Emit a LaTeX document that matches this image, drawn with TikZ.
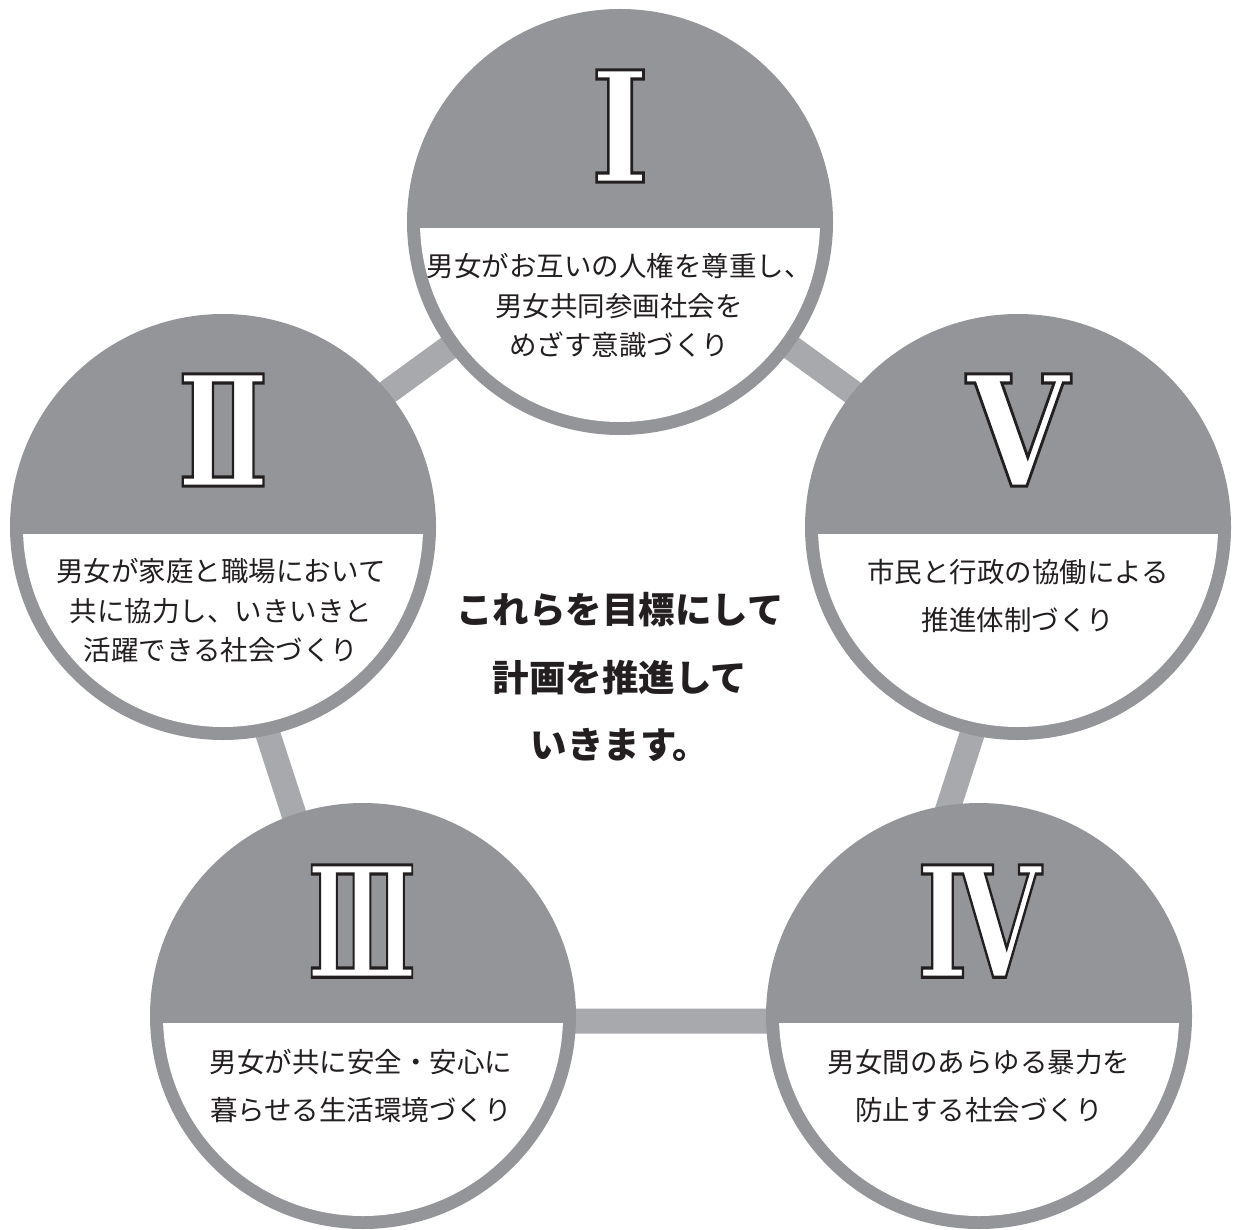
\documentclass[tikz,border=0pt]{standalone}
\usepackage{fontspec}
\usepackage{graphicx}
\usetikzlibrary{calc}
\newfontfamily\jpfont{Noto Sans CJK JP}
\newfontfamily\numfont{DejaVu Serif}
\definecolor{cgray}{RGB}{147,149,152}
\definecolor{bgray}{RGB}{167,169,172}
\definecolor{ink}{RGB}{35,31,32}
\newcommand\outlined[1]{{\color{white}\special{pdf:literal direct 0.137 0.122 0.125 RG 1.6 w 2 Tr}#1\special{pdf:literal direct 0 Tr}}}
\tikzset{
  disc/.style={circle, fill=cgray, minimum size=213pt, inner sep=0pt},
  bar/.style={draw=bgray, line width=12.5pt, line join=miter},
  body/.style={font=\jpfont\fontsize{13.75pt}{19.75pt}\selectfont, text=ink, align=center, inner sep=0pt},
  bodytwo/.style={font=\jpfont\fontsize{13.75pt}{24.25pt}\selectfont, text=ink, align=center, inner sep=0pt},
  lead/.style={font=\jpfont\bfseries\fontsize{18.25pt}{33.75pt}\selectfont, text=ink, align=center, inner sep=0pt},
  numeral/.style={inner sep=0pt, font=\numfont\bfseries\fontsize{77pt}{77pt}\selectfont}
}
\begin{document}
\begin{tikzpicture}[x=0.5pt,y=-0.5pt]
\useasboundingbox[fill=white] (0,0) rectangle (1234,1229);
% pentagon ring
\coordinate (p1) at (620,223);
\coordinate (p2) at (201,528);
\coordinate (p3) at (361,1021);
\coordinate (p4) at (879,1021);
\coordinate (p5) at (1039,528);
\draw[bar] (p1) -- (p2) -- (p3) -- (p4) -- (p5) -- cycle;
% discs
\node[disc] (c1) at (620,222) {};
\node[disc] (c2) at (223,527) {};
\node[disc] (c3) at (363,1016) {};
\node[disc] (c4) at (979,1016) {};
\node[disc] (c5) at (1018,527) {};
\foreach \c in {c1,c2,c3,c4,c5}{
  \begin{scope}
    \clip ($(\c.center)+(-215,7)$) rectangle ($(\c.center)+(215,215)$);
    \fill[white] (\c.center) circle (200);
  \end{scope}
}
% numerals
\node[numeral] (r1) at (620,126) {\scalebox{0.81}[1]{\outlined{Ⅰ}}};
\node[numeral] (r2) at (223,430) {\scalebox{0.70}[1]{\outlined{Ⅱ}}};
\node[numeral] (r3) at (362,921) {\scalebox{0.58}[1]{\outlined{Ⅲ}}};
\node[numeral] (r4) at (979,921) {\scalebox{0.71}[1]{\outlined{Ⅳ}}};
\node[numeral] (r5) at (1018,430) {\scalebox{0.86}[1]{\outlined{Ⅴ}}};
% texts
\node[body] (t1) at (619,306) {男女がお互いの人権を尊重し、\\男女共同参画社会を\\めざす意識づくり};
\node[body] (t2) at (221,611) {男女が家庭と職場において\\共に協力し、いきいきと\\活躍できる社会づくり};
\node[bodytwo] (t3) at (361,1086) {男女が共に安全・安心に\\暮らせる生活環境づくり};
\node[bodytwo] (t4) at (979,1086) {男女間のあらゆる暴力を\\防止する社会づくり};
\node[bodytwo] (t5) at (1018,596) {市民と行政の協働による\\推進体制づくり};
\node[lead] (mid) at (620,677) {これらを目標にして\\計画を推進して\\いきます。};
\end{tikzpicture}
\end{document}
